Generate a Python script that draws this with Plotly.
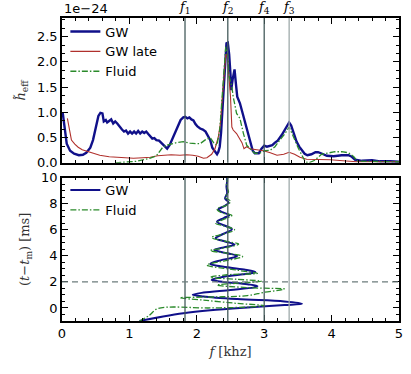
import plotly.graph_objects as go

# top panel: effective strain spectra (units of 1e-24) vs frequency [kHz]
gw_f = [0.01, 0.04, 0.07, 0.12, 0.18, 0.25, 0.31, 0.36, 0.42, 0.46, 0.50, 0.54, 0.57, 0.60, 0.62, 0.65,
        0.67, 0.70, 0.73, 0.76, 0.79, 0.82, 0.86, 0.89, 0.92, 0.95, 0.98, 1.01, 1.04, 1.07, 1.10, 1.13,
        1.16, 1.19, 1.22, 1.25, 1.28, 1.31, 1.34, 1.37, 1.40, 1.44, 1.47, 1.50, 1.53, 1.56, 1.60, 1.64,
        1.68, 1.72, 1.76, 1.80, 1.83, 1.86, 1.89, 1.92, 1.95, 1.98, 2.01, 2.05, 2.09, 2.13, 2.17, 2.20,
        2.23, 2.26, 2.28, 2.30, 2.32, 2.34, 2.36, 2.38, 2.40, 2.42, 2.44, 2.46, 2.48, 2.50, 2.51, 2.53,
        2.56, 2.58, 2.60, 2.64, 2.68, 2.71, 2.74, 2.77, 2.80, 2.83, 2.86, 2.92, 2.96, 3.00, 3.04, 3.08,
        3.12, 3.16, 3.20, 3.26, 3.32, 3.37, 3.40, 3.43, 3.48, 3.52, 3.56, 3.60, 3.64, 3.70, 3.76, 3.80,
        3.86, 3.93, 4.03, 4.15, 4.25, 4.30, 4.35, 4.45, 4.60, 4.72, 4.87, 5.00]
gw_h = [1.00, 0.70, 0.38, 0.24, 0.18, 0.15, 0.16, 0.20, 0.30, 0.45, 0.70, 0.93, 0.99, 0.98, 0.82, 0.85,
        0.80, 0.83, 0.86, 0.78, 0.82, 0.78, 0.70, 0.66, 0.62, 0.64, 0.58, 0.62, 0.58, 0.62, 0.58, 0.63,
        0.58, 0.62, 0.59, 0.62, 0.57, 0.52, 0.48, 0.49, 0.45, 0.44, 0.40, 0.36, 0.32, 0.28, 0.36, 0.48,
        0.63, 0.75, 0.85, 0.90, 0.91, 0.88, 0.90, 0.86, 0.84, 0.77, 0.72, 0.68, 0.66, 0.62, 0.52, 0.45,
        0.30, 0.25, 0.20, 0.17, 0.22, 0.32, 0.60, 1.10, 1.60, 2.05, 2.37, 2.38, 2.15, 1.75, 1.44, 1.64,
        1.85, 1.57, 1.31, 1.18, 0.98, 0.88, 0.68, 0.55, 0.42, 0.24, 0.19, 0.19, 0.28, 0.34, 0.32, 0.34,
        0.35, 0.40, 0.44, 0.55, 0.68, 0.80, 0.74, 0.62, 0.42, 0.32, 0.24, 0.18, 0.15, 0.17, 0.21, 0.21,
        0.18, 0.14, 0.13, 0.15, 0.15, 0.12, 0.06, 0.04, 0.05, 0.03, 0.03, 0.02]

late_f = [0.08, 0.11, 0.14, 0.19, 0.24, 0.30, 0.37, 0.45, 0.56, 0.70, 0.81, 0.95, 1.06, 1.20, 1.31, 1.42,
          1.50, 1.62, 1.75, 1.85, 1.94, 2.02, 2.10, 2.15, 2.22, 2.27, 2.32, 2.35, 2.38, 2.41, 2.43, 2.45,
          2.47, 2.50, 2.52, 2.54, 2.59, 2.63, 2.67, 2.70, 2.74, 2.79, 2.89, 2.99, 3.09, 3.19, 3.29, 3.37,
          3.45, 3.53, 3.63, 3.78, 3.98, 4.17, 4.37, 4.60, 5.00]
late_h = [0.88, 0.65, 0.45, 0.37, 0.31, 0.26, 0.23, 0.19, 0.15, 0.12, 0.11, 0.10, 0.09, 0.10, 0.11, 0.14,
          0.15, 0.16, 0.15, 0.16, 0.15, 0.13, 0.09, 0.10, 0.17, 0.28, 0.52, 0.78, 1.31, 1.84, 2.14, 2.14,
          1.84, 1.31, 0.71, 0.65, 0.58, 0.50, 0.40, 0.28, 0.32, 0.28, 0.26, 0.24, 0.20, 0.15, 0.17, 0.21,
          0.17, 0.11, 0.07, 0.07, 0.06, 0.04, 0.02, 0.02, 0.02]

fluid_f = [0.79, 0.95, 1.10, 1.20, 1.30, 1.40, 1.45, 1.49, 1.55, 1.60, 1.70, 1.80, 1.90, 2.00, 2.05, 2.12,
           2.20, 2.26, 2.30, 2.34, 2.38, 2.41, 2.43, 2.46, 2.48, 2.52, 2.54, 2.59, 2.64, 2.69, 2.74, 2.79,
           2.86, 2.93, 3.01, 3.09, 3.16, 3.23, 3.31, 3.37, 3.43, 3.51, 3.56, 3.61, 3.66, 3.75, 3.85, 3.95,
           4.05, 4.15, 4.25, 4.33, 4.38, 4.50, 4.70, 5.00]
fluid_h = [0.00, 0.01, 0.03, 0.06, 0.09, 0.14, 0.22, 0.30, 0.35, 0.37, 0.40, 0.42, 0.39, 0.38, 0.38, 0.45,
           0.50, 0.38, 0.35, 0.65, 1.44, 1.97, 2.30, 2.14, 1.71, 1.51, 1.31, 0.98, 0.88, 0.59, 0.35, 0.28,
           0.19, 0.19, 0.24, 0.25, 0.32, 0.45, 0.58, 0.71, 0.52, 0.28, 0.15, 0.02, 0.00, 0.05, 0.17, 0.19,
           0.22, 0.22, 0.20, 0.12, 0.04, 0.03, 0.03, 0.02]

# bottom panel: peak frequency [kHz] vs time after merger [ms]
gw_track_f = [1.15, 1.50, 1.80, 2.20, 2.80, 3.30, 3.56, 3.30, 2.60, 2.10, 1.94, 2.10, 2.50, 2.85, 2.90,
              2.75, 2.40, 2.22, 2.40, 2.75, 2.87, 2.70, 2.35, 2.20, 2.35, 2.55, 2.60, 2.45, 2.26, 2.40,
              2.56, 2.42, 2.28, 2.40, 2.52, 2.40, 2.30, 2.40, 2.48, 2.38, 2.32, 2.42, 2.47, 2.42, 2.45,
              2.44, 2.45, 2.45]
gw_track_t = [-1.00, -0.65, -0.40, -0.18, 0.05, 0.22, 0.33, 0.50, 0.68, 0.88, 1.02, 1.18, 1.38, 1.58, 1.68,
              1.82, 2.00, 2.15, 2.40, 2.62, 2.75, 2.95, 3.20, 3.38, 3.65, 3.88, 4.00, 4.20, 4.45, 4.65,
              4.87, 5.10, 5.35, 5.70, 6.05, 6.35, 6.62, 6.90, 7.12, 7.35, 7.56, 7.85, 8.10, 8.40, 8.80,
              9.30, 9.70, 10.00]

fluid_track_f = [1.15, 1.30, 1.42, 2.20, 2.80, 3.00, 2.60, 2.10, 1.75, 2.30, 2.75, 3.00, 3.30, 2.80, 2.30,
                 2.60, 2.96, 2.60, 2.20, 2.45, 2.90, 2.60, 2.15, 2.40, 2.68, 2.45, 2.20, 2.45, 2.62, 2.40,
                 2.22, 2.45, 2.56, 2.40, 2.28, 2.45, 2.52, 2.35, 2.30, 2.45, 2.50, 2.42, 2.47, 2.44, 2.46]
fluid_track_t = [-1.00, -0.55, -0.05, 0.00, 0.08, 0.18, 0.35, 0.60, 0.78, 0.85, 0.95, 1.20, 1.45, 1.55, 1.75,
                 1.90, 2.05, 2.20, 2.35, 2.55, 2.65, 2.90, 3.30, 3.60, 3.95, 4.20, 4.40, 4.65, 4.90, 5.15,
                 5.40, 5.75, 6.00, 6.30, 6.50, 6.90, 7.10, 7.35, 7.60, 7.90, 8.20, 8.50, 8.90, 9.40, 10.00]

# characteristic frequencies [kHz]
peak_names = ["f<sub>1</sub>", "f<sub>2</sub>", "f<sub>4</sub>", "f<sub>3</sub>"]
peak_freqs = [1.825, 2.46, 3.0, 3.37]
peak_colors = ["#465c5c", "#465c5c", "#465c5c", "#9fabab"]
t_mark = 2.0

NAVY = "#10108a"
RED = "#b0302c"
GREEN = "#2a8a2a"
DASHDOT = "6px,2px,1.5px,2px"
TICKFONT = dict(family="DejaVu Sans", size=13, color="black")
SERIF = "DejaVu Serif"

fig = go.Figure()

fig.add_trace(go.Scatter(x=gw_f, y=gw_h, mode="lines", name="GW",
                         line=dict(color=NAVY, width=2.4), xaxis="x", yaxis="y", legend="legend"))
fig.add_trace(go.Scatter(x=late_f, y=late_h, mode="lines", name="GW late",
                         line=dict(color=RED, width=1.1), xaxis="x", yaxis="y", legend="legend"))
fig.add_trace(go.Scatter(x=fluid_f, y=fluid_h, mode="lines", name="Fluid",
                         line=dict(color=GREEN, width=1.3, dash=DASHDOT), xaxis="x", yaxis="y",
                         legend="legend"))

fig.add_trace(go.Scatter(x=gw_track_f, y=gw_track_t, mode="lines", name="GW",
                         line=dict(color=NAVY, width=2.0, shape="spline", smoothing=1.0),
                         xaxis="x2", yaxis="y2", legend="legend2"))
fig.add_trace(go.Scatter(x=fluid_track_f, y=fluid_track_t, mode="lines", name="Fluid",
                         line=dict(color=GREEN, width=1.3, dash=DASHDOT, shape="spline", smoothing=1.0),
                         xaxis="x2", yaxis="y2", legend="legend2"))

shapes = []
for xf, c in zip(peak_freqs, peak_colors):
    for xr, yr in (("x", "y domain"), ("x2", "y2 domain")):
        shapes.append(dict(type="line", xref=xr, yref=yr, x0=xf, x1=xf, y0=0, y1=1,
                           line=dict(color=c, width=1.3), layer="above"))
shapes.append(dict(type="line", xref="x2 domain", yref="y2", x0=0, x1=1, y0=t_mark, y1=t_mark,
                   line=dict(color="#6c7c7c", width=1.2, dash="6px,4px"), layer="above"))

annotations = []
for name, xf in zip(peak_names, peak_freqs):
    annotations.append(dict(x=xf, y=1, xref="x", yref="paper", yanchor="bottom", showarrow=False,
                            text="<i>" + name.replace("<sub>", "</i><sub>"),
                            font=dict(family=SERIF, size=13, color="black")))
annotations.append(dict(x=0, y=1, xref="paper", yref="paper", xanchor="left", yanchor="bottom",
                        showarrow=False, text="1e\u221224", font=TICKFONT))

axis_common = dict(showline=True, linecolor="black", linewidth=1.6, mirror="ticks",
                   ticks="inside", ticklen=6, tickwidth=1, tickcolor="black", automargin=False,
                   showgrid=False, zeroline=False, tickfont=TICKFONT)

fig.update_layout(
    width=411, height=374,
    margin=dict(l=62, r=12, t=18, b=53, autoexpand=False),
    paper_bgcolor="white", plot_bgcolor="white",
    showlegend=True,
    shapes=shapes,
    annotations=annotations,
    xaxis=dict(domain=[0, 1], range=[0, 5], anchor="y", showticklabels=False, dtick=1,
               minor=dict(ticks="inside", dtick=0.2, ticklen=3, tickcolor="black"), **axis_common),
    yaxis=dict(domain=[0.522, 1], range=[0, 2.87], anchor="x", dtick=0.5, tickformat=".1f",
               minor=dict(ticks="inside", dtick=0.5 / 3, ticklen=3, tickcolor="black"),
               title=dict(text="<i>h\u0303</i><sub>eff</sub>", font=dict(family=SERIF, size=13, color="#333"),
                          standoff=8),
               **axis_common),
    xaxis2=dict(domain=[0, 1], range=[0, 5], anchor="y2", dtick=1,
                minor=dict(ticks="inside", dtick=0.2, ticklen=3, tickcolor="black"),
                title=dict(text="<i>f</i> [khz]", font=dict(family=SERIF, size=13, color="#333"), standoff=6),
                **axis_common),
    yaxis2=dict(domain=[0, 0.473], range=[-1, 10], anchor="x2", dtick=2,
                minor=dict(ticks="inside", dtick=0.5, ticklen=3, tickcolor="black"),
                title=dict(text="(<i>t</i>\u2212<i>t</i><sub>m</sub>) [ms]",
                           font=dict(family=SERIF, size=13, color="#333"), standoff=8),
                **axis_common),
    legend=dict(x=0.01, y=1.005, xanchor="left", yanchor="top", bgcolor="rgba(0,0,0,0)",
                font=dict(family="DejaVu Sans", size=13, color="black"), tracegroupgap=0,
                itemwidth=30),
    legend2=dict(x=0.01, y=0.482, xanchor="left", yanchor="top", bgcolor="rgba(0,0,0,0)",
                 font=dict(family="DejaVu Sans", size=13, color="black"), tracegroupgap=0,
                 itemwidth=30),
)

# drop the browser's default 8px body margin so the figure sits at the page origin
fig.write_html("out.html", config={"displayModeBar": False},
               post_script="document.body.style.margin='0';")
